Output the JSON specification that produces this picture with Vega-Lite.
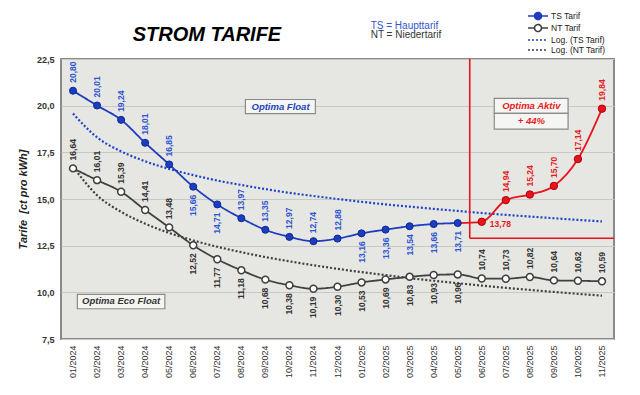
{
  "$schema": "https://vega.github.io/schema/vega-lite/v6.json",
  "width": 553,
  "height": 280,
  "autosize": {"type": "none"},
  "padding": {"left": 61, "top": 59, "right": 26, "bottom": 56},
  "background": "#ffffff",
  "config": {
    "locale": {"number": {"decimal": ",", "thousands": ".", "grouping": [3], "currency": ["", " €"]}},
    "view": {"stroke": "#8a8a8a", "strokeWidth": 2, "fill": "#e6e6e2"},
    "font": "Liberation Sans"
  },
  "data": {"values": [
    {"month": "2024-01", "series": "TS Tarif", "value": 20.80},
    {"month": "2024-02", "series": "TS Tarif", "value": 20.01},
    {"month": "2024-03", "series": "TS Tarif", "value": 19.24},
    {"month": "2024-04", "series": "TS Tarif", "value": 18.01},
    {"month": "2024-05", "series": "TS Tarif", "value": 16.85},
    {"month": "2024-06", "series": "TS Tarif", "value": 15.66},
    {"month": "2024-07", "series": "TS Tarif", "value": 14.71},
    {"month": "2024-08", "series": "TS Tarif", "value": 13.97},
    {"month": "2024-09", "series": "TS Tarif", "value": 13.35},
    {"month": "2024-10", "series": "TS Tarif", "value": 12.97},
    {"month": "2024-11", "series": "TS Tarif", "value": 12.74},
    {"month": "2024-12", "series": "TS Tarif", "value": 12.88},
    {"month": "2025-01", "series": "TS Tarif", "value": 13.16},
    {"month": "2025-02", "series": "TS Tarif", "value": 13.36},
    {"month": "2025-03", "series": "TS Tarif", "value": 13.54},
    {"month": "2025-04", "series": "TS Tarif", "value": 13.66},
    {"month": "2025-05", "series": "TS Tarif", "value": 13.71},
    {"month": "2025-06", "series": "TS Tarif", "value": 13.78},
    {"month": "2025-07", "series": "TS Tarif", "value": 14.94},
    {"month": "2025-08", "series": "TS Tarif", "value": 15.24},
    {"month": "2025-09", "series": "TS Tarif", "value": 15.70},
    {"month": "2025-10", "series": "TS Tarif", "value": 17.14},
    {"month": "2025-11", "series": "TS Tarif", "value": 19.84},
    {"month": "2024-01", "series": "NT Tarif", "value": 16.64},
    {"month": "2024-02", "series": "NT Tarif", "value": 16.01},
    {"month": "2024-03", "series": "NT Tarif", "value": 15.39},
    {"month": "2024-04", "series": "NT Tarif", "value": 14.41},
    {"month": "2024-05", "series": "NT Tarif", "value": 13.48},
    {"month": "2024-06", "series": "NT Tarif", "value": 12.52},
    {"month": "2024-07", "series": "NT Tarif", "value": 11.77},
    {"month": "2024-08", "series": "NT Tarif", "value": 11.18},
    {"month": "2024-09", "series": "NT Tarif", "value": 10.68},
    {"month": "2024-10", "series": "NT Tarif", "value": 10.38},
    {"month": "2024-11", "series": "NT Tarif", "value": 10.19},
    {"month": "2024-12", "series": "NT Tarif", "value": 10.30},
    {"month": "2025-01", "series": "NT Tarif", "value": 10.53},
    {"month": "2025-02", "series": "NT Tarif", "value": 10.69},
    {"month": "2025-03", "series": "NT Tarif", "value": 10.83},
    {"month": "2025-04", "series": "NT Tarif", "value": 10.93},
    {"month": "2025-05", "series": "NT Tarif", "value": 10.96},
    {"month": "2025-06", "series": "NT Tarif", "value": 10.74},
    {"month": "2025-07", "series": "NT Tarif", "value": 10.73},
    {"month": "2025-08", "series": "NT Tarif", "value": 10.82},
    {"month": "2025-09", "series": "NT Tarif", "value": 10.64},
    {"month": "2025-10", "series": "NT Tarif", "value": 10.62},
    {"month": "2025-11", "series": "NT Tarif", "value": 10.59},
    {"month": "2024-01", "series": "Log. (TS Tarif)", "value": 19.58},
    {"month": "2024-02", "series": "Log. (TS Tarif)", "value": 18.30},
    {"month": "2024-03", "series": "Log. (TS Tarif)", "value": 17.55},
    {"month": "2024-04", "series": "Log. (TS Tarif)", "value": 17.02},
    {"month": "2024-05", "series": "Log. (TS Tarif)", "value": 16.61},
    {"month": "2024-06", "series": "Log. (TS Tarif)", "value": 16.28},
    {"month": "2024-07", "series": "Log. (TS Tarif)", "value": 15.99},
    {"month": "2024-08", "series": "Log. (TS Tarif)", "value": 15.75},
    {"month": "2024-09", "series": "Log. (TS Tarif)", "value": 15.53},
    {"month": "2024-10", "series": "Log. (TS Tarif)", "value": 15.33},
    {"month": "2024-11", "series": "Log. (TS Tarif)", "value": 15.16},
    {"month": "2024-12", "series": "Log. (TS Tarif)", "value": 15.00},
    {"month": "2025-01", "series": "Log. (TS Tarif)", "value": 14.85},
    {"month": "2025-02", "series": "Log. (TS Tarif)", "value": 14.71},
    {"month": "2025-03", "series": "Log. (TS Tarif)", "value": 14.59},
    {"month": "2025-04", "series": "Log. (TS Tarif)", "value": 14.47},
    {"month": "2025-05", "series": "Log. (TS Tarif)", "value": 14.36},
    {"month": "2025-06", "series": "Log. (TS Tarif)", "value": 14.25},
    {"month": "2025-07", "series": "Log. (TS Tarif)", "value": 14.15},
    {"month": "2025-08", "series": "Log. (TS Tarif)", "value": 14.06},
    {"month": "2025-09", "series": "Log. (TS Tarif)", "value": 13.97},
    {"month": "2025-10", "series": "Log. (TS Tarif)", "value": 13.88},
    {"month": "2025-11", "series": "Log. (TS Tarif)", "value": 13.80},
    {"month": "2024-01", "series": "Log. (NT Tarif)", "value": 16.73},
    {"month": "2024-02", "series": "Log. (NT Tarif)", "value": 15.20},
    {"month": "2024-03", "series": "Log. (NT Tarif)", "value": 14.31},
    {"month": "2024-04", "series": "Log. (NT Tarif)", "value": 13.68},
    {"month": "2024-05", "series": "Log. (NT Tarif)", "value": 13.18},
    {"month": "2024-06", "series": "Log. (NT Tarif)", "value": 12.78},
    {"month": "2024-07", "series": "Log. (NT Tarif)", "value": 12.44},
    {"month": "2024-08", "series": "Log. (NT Tarif)", "value": 12.15},
    {"month": "2024-09", "series": "Log. (NT Tarif)", "value": 11.89},
    {"month": "2024-10", "series": "Log. (NT Tarif)", "value": 11.66},
    {"month": "2024-11", "series": "Log. (NT Tarif)", "value": 11.45},
    {"month": "2024-12", "series": "Log. (NT Tarif)", "value": 11.26},
    {"month": "2025-01", "series": "Log. (NT Tarif)", "value": 11.08},
    {"month": "2025-02", "series": "Log. (NT Tarif)", "value": 10.92},
    {"month": "2025-03", "series": "Log. (NT Tarif)", "value": 10.76},
    {"month": "2025-04", "series": "Log. (NT Tarif)", "value": 10.62},
    {"month": "2025-05", "series": "Log. (NT Tarif)", "value": 10.49},
    {"month": "2025-06", "series": "Log. (NT Tarif)", "value": 10.36},
    {"month": "2025-07", "series": "Log. (NT Tarif)", "value": 10.24},
    {"month": "2025-08", "series": "Log. (NT Tarif)", "value": 10.13},
    {"month": "2025-09", "series": "Log. (NT Tarif)", "value": 10.02},
    {"month": "2025-10", "series": "Log. (NT Tarif)", "value": 9.92},
    {"month": "2025-11", "series": "Log. (NT Tarif)", "value": 9.82}
  ]},
  "encoding": {
    "x": {"field": "month", "type": "ordinal",
      "scale": {"type": "band", "paddingInner": 0, "paddingOuter": 0},
      "axis": {"title": null, "labelExpr": "slice(datum.value, 5) + '/' + slice(datum.value, 0, 4)", "labelAngle": 270, "labelFontSize": 9, "labelColor": "#333333", "labelFont": "Liberation Sans", "ticks": false, "domain": false, "grid": false, "labelPadding": 6}},
    "y": {"field": "value", "type": "quantitative",
      "scale": {"domain": [7.5, 22.5], "nice": false, "zero": false},
      "axis": {"title": "Tarife\u00a0 [ct pro kWh]", "titleFont": "Liberation Sans", "titleFontSize": 11, "titleFontWeight": "bold", "titleFontStyle": "italic", "titleColor": "#222222", "titlePadding": 8, "values": [7.5, 10, 12.5, 15, 17.5, 20, 22.5], "format": ".1f", "labelFontSize": 9, "labelFontWeight": "bold", "labelColor": "#333333", "labelPadding": 7, "ticks": false, "domain": false, "grid": true, "gridColor": "#c8c8c4", "gridWidth": 1}}
  },
  "layer": [
    {
      "transform": [{"filter": "datum.series == 'Log. (TS Tarif)' || datum.series == 'Log. (NT Tarif)'"}],
      "mark": {"type": "line", "interpolate": "monotone", "strokeWidth": 2.2},
      "encoding": {
        "color": {"field": "series", "type": "nominal", "scale": {"domain": ["TS Tarif", "NT Tarif", "Log. (TS Tarif)", "Log. (NT Tarif)"], "range": ["#1d3cbf", "#404040", "#1f44c8", "#404040"]},
          "legend": {"title": null, "orient": "none", "legendX": 472, "legendY": -48, "padding": 0, "rowPadding": -3, "labelFontSize": 8.5, "labelColor": "#222222", "labelFont": "Liberation Sans", "labelOffset": 8, "symbolSize": 64, "symbolStrokeWidth": 1.6,
            "encode": {"symbols": {"update": {
              "shape": {"signal": "datum.value == 'TS Tarif' || datum.value == 'NT Tarif' ? 'M-2.5,0H-0.875M0.875,0H2.5M0.875,0C0.875,0.4833,0.4833,0.875,0,0.875C-0.4833,0.875,-0.875,0.4833,-0.875,0C-0.875,-0.4833,-0.4833,-0.875,0,-0.875C0.4833,-0.875,0.875,-0.4833,0.875,0Z' : 'M-2.5,0H2.5'"},
              "fill": {"signal": "datum.value == 'TS Tarif' ? '#1d3cbf' : datum.value == 'NT Tarif' ? '#ffffff' : 'transparent'"}}}}}},
        "strokeDash": {"field": "series", "type": "nominal", "scale": {"domain": ["TS Tarif", "NT Tarif", "Log. (TS Tarif)", "Log. (NT Tarif)"], "range": [[1, 0], [1, 0], [2, 2], [2, 2]]},
          "legend": {"title": null, "orient": "none", "legendX": 472, "legendY": -48, "padding": 0, "rowPadding": -3, "labelFontSize": 8.5, "labelColor": "#222222", "labelFont": "Liberation Sans", "labelOffset": 8, "symbolSize": 64, "symbolStrokeWidth": 1.6,
            "encode": {"symbols": {"update": {
              "shape": {"signal": "datum.value == 'TS Tarif' || datum.value == 'NT Tarif' ? 'M-2.5,0H-0.875M0.875,0H2.5M0.875,0C0.875,0.4833,0.4833,0.875,0,0.875C-0.4833,0.875,-0.875,0.4833,-0.875,0C-0.875,-0.4833,-0.4833,-0.875,0,-0.875C0.4833,-0.875,0.875,-0.4833,0.875,0Z' : 'M-2.5,0H2.5'"},
              "fill": {"signal": "datum.value == 'TS Tarif' ? '#1d3cbf' : datum.value == 'NT Tarif' ? '#ffffff' : 'transparent'"}}}}}}
      }
    },
    {
      "transform": [{"filter": "(datum.series == 'TS Tarif' && datum.month <= '2025-05') || datum.series == 'NT Tarif'"}],
      "mark": {"type": "line", "interpolate": "monotone", "strokeWidth": 1.8},
      "encoding": {
        "color": {"field": "series", "type": "nominal"},
        "strokeDash": {"field": "series", "type": "nominal"}
      }
    },
    {
      "transform": [{"filter": "datum.series == 'TS Tarif' && datum.month >= '2025-05'"}],
      "mark": {"type": "line", "interpolate": "monotone", "strokeWidth": 1.8, "color": "#e8141a"}
    },
    {
      "data": {"values": [{"month": "2025-06", "value": 22.5, "value2": 12.9}]},
      "mark": {"type": "rule", "color": "#e8141a", "strokeWidth": 1.6},
      "encoding": {
        "x": {"field": "month", "type": "ordinal", "bandPosition": 0},
        "y": {"field": "value", "type": "quantitative"},
        "y2": {"field": "value2"}
      }
    },
    {
      "data": {"values": [{"month": "2025-06", "value": 12.9}]},
      "mark": {"type": "rule", "color": "#e8141a", "strokeWidth": 1.6},
      "encoding": {
        "x": {"field": "month", "type": "ordinal", "bandPosition": 0},
        "x2": {"value": "width"},
        "y": {"field": "value", "type": "quantitative"}
      }
    },
    {
      "transform": [{"filter": "datum.series == 'TS Tarif' && datum.month <= '2025-05'"}],
      "mark": {"type": "point", "filled": true, "size": 50, "fill": "#1d3cbf", "stroke": "#0c2a96", "strokeWidth": 1, "opacity": 1}
    },
    {
      "transform": [{"filter": "datum.series == 'TS Tarif' && datum.month >= '2025-06'"}],
      "mark": {"type": "point", "filled": true, "size": 55, "fill": "#e8141a", "stroke": "#b00010", "strokeWidth": 1, "opacity": 1}
    },
    {
      "transform": [{"filter": "datum.series == 'NT Tarif'"}],
      "mark": {"type": "point", "filled": true, "size": 48, "fill": "#ffffff", "stroke": "#404040", "strokeWidth": 1.5, "opacity": 1}
    },
    {
      "transform": [{"filter": "datum.series == 'TS Tarif' && (datum.month <= '2024-05' || (datum.month >= '2024-08' && datum.month <= '2024-12'))"}],
      "mark": {"type": "text", "angle": 270, "align": "left", "baseline": "middle", "dx": 8, "fontSize": 8.5, "fontWeight": "bold", "color": "#2f55d4"},
      "encoding": {"text": {"field": "value", "type": "quantitative", "format": ".2f"}}
    },
    {
      "transform": [{"filter": "datum.series == 'TS Tarif' && ((datum.month >= '2024-06' && datum.month <= '2024-07') || (datum.month >= '2025-01' && datum.month <= '2025-05'))"}],
      "mark": {"type": "text", "angle": 270, "align": "right", "baseline": "middle", "dx": -8, "fontSize": 8.5, "fontWeight": "bold", "color": "#2f55d4"},
      "encoding": {"text": {"field": "value", "type": "quantitative", "format": ".2f"}}
    },
    {
      "transform": [{"filter": "datum.series == 'TS Tarif' && datum.month >= '2025-07'"}],
      "mark": {"type": "text", "angle": 270, "align": "left", "baseline": "middle", "dx": 8, "fontSize": 8.5, "fontWeight": "bold", "color": "#e51c23"},
      "encoding": {"text": {"field": "value", "type": "quantitative", "format": ".2f"}}
    },
    {
      "transform": [{"filter": "datum.series == 'TS Tarif' && datum.month == '2025-06'"}],
      "mark": {"type": "text", "align": "left", "baseline": "middle", "dx": 8, "dy": 2, "fontSize": 8.5, "fontWeight": "bold", "color": "#e51c23"},
      "encoding": {"text": {"field": "value", "type": "quantitative", "format": ".2f"}}
    },
    {
      "transform": [{"filter": "datum.series == 'NT Tarif' && (datum.month <= '2024-05' || datum.month >= '2025-06')"}],
      "mark": {"type": "text", "angle": 270, "align": "left", "baseline": "middle", "dx": 8, "fontSize": 8.5, "fontWeight": "bold", "color": "#333333"},
      "encoding": {"text": {"field": "value", "type": "quantitative", "format": ".2f"}}
    },
    {
      "transform": [{"filter": "datum.series == 'NT Tarif' && datum.month >= '2024-06' && datum.month <= '2025-05'"}],
      "mark": {"type": "text", "angle": 270, "align": "right", "baseline": "middle", "dx": -8, "fontSize": 8.5, "fontWeight": "bold", "color": "#333333"},
      "encoding": {"text": {"field": "value", "type": "quantitative", "format": ".2f"}}
    },
    {
      "data": {"values": [{"month": "2024-08", "month2": "2024-11", "value": 20.33, "value2": 19.57}]},
      "mark": {"type": "rect", "fill": "#f5f5f3", "stroke": "#8a8a8a", "strokeWidth": 1.2},
      "encoding": {
        "x": {"field": "month", "type": "ordinal", "bandPosition": 0.67},
        "x2": {"field": "month2", "bandPosition": 0.58},
        "y": {"field": "value", "type": "quantitative"},
        "y2": {"field": "value2"}
      }
    },
    {
      "data": {"values": [{"month": "2024-01", "month2": "2024-05", "value": 9.89, "value2": 9.12}]},
      "mark": {"type": "rect", "fill": "#f5f5f3", "stroke": "#8a8a8a", "strokeWidth": 1.2},
      "encoding": {
        "x": {"field": "month", "type": "ordinal", "bandPosition": 0.68},
        "x2": {"field": "month2", "bandPosition": 0.32},
        "y": {"field": "value", "type": "quantitative"},
        "y2": {"field": "value2"}
      }
    },
    {
      "data": {"values": [
        {"month": "2025-07", "month2": "2025-10", "value": 20.39, "value2": 19.59},
        {"month": "2025-07", "month2": "2025-10", "value": 19.59, "value2": 18.74}
      ]},
      "mark": {"type": "rect", "fill": "#f5f5f3", "stroke": "#8a8a8a", "strokeWidth": 1.2},
      "encoding": {
        "x": {"field": "month", "type": "ordinal", "bandPosition": 0.02},
        "x2": {"field": "month2", "bandPosition": 0.09},
        "y": {"field": "value", "type": "quantitative"},
        "y2": {"field": "value2"}
      }
    },
    {
      "data": {"values": [{"month": "2024-10", "value": 19.95, "t": "Optima Float"}]},
      "mark": {"type": "text", "align": "center", "baseline": "middle", "fontSize": 9.5, "fontWeight": "bold", "fontStyle": "italic", "color": "#2244bb"},
      "encoding": {
        "x": {"field": "month", "type": "ordinal", "bandPosition": 0.13},
        "y": {"field": "value", "type": "quantitative"},
        "text": {"field": "t"}
      }
    },
    {
      "data": {"values": [{"month": "2024-03", "value": 9.51, "t": "Optima Eco Float"}]},
      "mark": {"type": "text", "align": "center", "baseline": "middle", "fontSize": 9.5, "fontWeight": "bold", "fontStyle": "italic", "color": "#333333"},
      "encoding": {
        "x": {"field": "month", "type": "ordinal", "bandPosition": 0.5},
        "y": {"field": "value", "type": "quantitative"},
        "text": {"field": "t"}
      }
    },
    {
      "data": {"values": [{"month": "2025-08", "value": 19.99, "t": "Optima Aktiv"}, {"month": "2025-08", "value": 19.17, "t": "+ 44%"}]},
      "mark": {"type": "text", "align": "center", "baseline": "middle", "fontSize": 9.5, "fontWeight": "bold", "fontStyle": "italic", "color": "#e51c23"},
      "encoding": {
        "x": {"field": "month", "type": "ordinal", "bandPosition": 0.56},
        "y": {"field": "value", "type": "quantitative"},
        "text": {"field": "t"}
      }
    },
    {
      "data": {"values": [{"month": "2024-07", "value": 23.79, "t": "STROM TARIFE"}]},
      "mark": {"type": "text", "align": "center", "baseline": "middle", "fontSize": 20, "fontWeight": 900, "fontStyle": "italic", "color": "#000000"},
      "encoding": {
        "x": {"field": "month", "type": "ordinal", "bandPosition": 0.07},
        "y": {"field": "value", "type": "quantitative"},
        "text": {"field": "t"}
      }
    },
    {
      "data": {"values": [{"month": "2025-01", "value": 24.26, "t": "TS = Haupttarif"}]},
      "mark": {"type": "text", "align": "left", "baseline": "middle", "fontSize": 10, "color": "#3355cc"},
      "encoding": {
        "x": {"field": "month", "type": "ordinal", "bandPosition": 0.88},
        "y": {"field": "value", "type": "quantitative"},
        "text": {"field": "t"}
      }
    },
    {
      "data": {"values": [{"month": "2025-01", "value": 23.76, "t": "NT = Niedertarif"}]},
      "mark": {"type": "text", "align": "left", "baseline": "middle", "fontSize": 10, "color": "#333333"},
      "encoding": {
        "x": {"field": "month", "type": "ordinal", "bandPosition": 0.88},
        "y": {"field": "value", "type": "quantitative"},
        "text": {"field": "t"}
      }
    }
  ]
}
